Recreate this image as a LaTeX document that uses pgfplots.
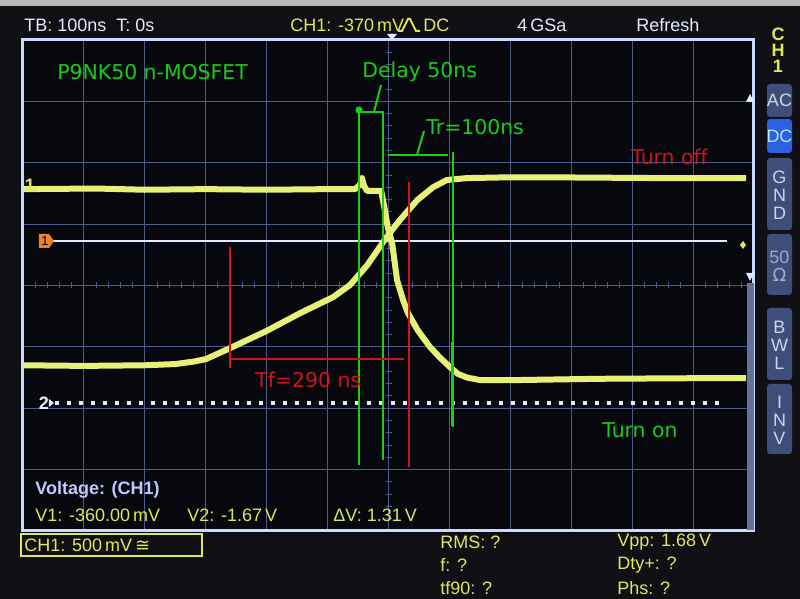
\documentclass[border=0pt]{standalone}
\usepackage{fontspec}
\setmainfont{Liberation Sans}
\newfontfamily\dv{DejaVu Sans}
\usepackage{pgfplots}
\pgfplotsset{compat=1.18}
\definecolor{bg}{RGB}{6,8,14}
\definecolor{outer}{RGB}{16,16,20}
\definecolor{gridc}{RGB}{78,92,140}
\definecolor{framec}{RGB}{205,218,255}
\definecolor{trace}{RGB}{232,240,118}
\definecolor{uiw}{RGB}{228,234,255}
\definecolor{uiy}{RGB}{222,232,92}
\definecolor{ann}{RGB}{25,205,25}
\definecolor{annr}{RGB}{205,20,25}
\definecolor{btn}{RGB}{62,78,122}
\definecolor{btnhi}{RGB}{45,95,225}
\definecolor{btntxt}{RGB}{205,212,232}
\definecolor{trig}{RGB}{240,130,40}
\definecolor{cursor}{RGB}{225,235,255}
\newcommand{\ui}{\fontsize{9}{10}\selectfont}
\newcommand{\an}{\dv\fontsize{10.2}{12}\selectfont}
\begin{document}
\begin{tikzpicture}
\begin{scope}[x=0.5pt,y=-0.5pt,shift={(-11.5pt,265.5pt)}]
  \fill[outer] (0,0) rectangle (800,599);
  \fill[gray!55] (0,0) rectangle (800,6);
  \fill[bg] (22,38) rectangle (756,533);
  \foreach \i in {-30,...,30} { \draw[gridc, line width=0.5pt] ({388.5+\i*12.183},282.5) -- ++(0,6); }
  \foreach \i in {-20,...,20} { \draw[gridc, line width=0.5pt] (385.5,{285.5+\i*12.275}) -- ++(6,0); }
\end{scope}
\begin{axis}[
  at={(0,0)}, anchor=south west,
  scale only axis, width=365.5pt, height=245.5pt,
  xmin=-600, xmax=600, ymin=-4, ymax=4,
  xtick={-500,-400,...,500}, ytick={-3,-2,...,3},
  xticklabels={}, yticklabels={}, major tick length=0pt,
  grid=major, major grid style={gridc, line width=0.5pt},
  axis line style={framec, line width=1.5pt},
]
\addplot[cursor, line width=1.4pt] coordinates {(-556,0.725)(556,0.725)};
\addplot[uiw, line width=2pt, dash pattern=on 2pt off 4pt] coordinates {(-547,-1.914)(549,-1.914)};
% Turn off trace (drain voltage falls)
\addplot[trace, line width=3pt, line join=round] coordinates {
(-600,1.57) (-480,1.58) (-400,1.56) (-300,1.57) (-200,1.56) (-100,1.57) (-55,1.57)
(-47,1.64) (-43.5,1.75) (-40,1.62) (-35,1.54) (-12,1.54) (-6,1.23) (-1,0.94) (6,0.69)
(14,0.09) (24,-0.24) (32,-0.45) (48,-0.73) (68,-1.00) (85,-1.18) (101,-1.33) (114,-1.44)
(129,-1.50) (150,-1.54) (216,-1.54) (347,-1.52) (511,-1.51) (587,-1.51)};
% Turn on trace (rises)
\addplot[trace, line width=3pt, line join=round] coordinates {
(-600,-1.30) (-500,-1.31) (-400,-1.30) (-350,-1.28) (-320,-1.24) (-300,-1.20) (-260,-1.02)
(-200,-0.74) (-145,-0.45) (-91,-0.19) (-63,0.01) (-35,0.33) (-3,0.79) (19,1.07) (47,1.39)
(73,1.60) (96,1.72) (129,1.75) (183,1.76) (300,1.76) (450,1.75) (587,1.75)};
\end{axis}
\begin{scope}[x=0.5pt,y=-0.5pt,shift={(-11.5pt,265.5pt)}]
  % markers
  \node[uiy, font=\ui\bfseries, inner sep=0] at (30,185) {1};
  \fill[uiy] (34,186) -- (38,189) -- (34,192) -- cycle;
  \fill[trig] (39,234) -- (49,234) -- (54,241) -- (49,248) -- (39,248) -- cycle;
  \node[black, font=\fontsize{6.5}{6.5}\selectfont, inner sep=0] at (45,241) {1};
  \node[uiw, font=\ui\bfseries, inner sep=0] at (44,403) {2};
  \fill[uiw] (49,399) -- (54,403) -- (49,407) -- cycle;
  \fill[uiy] (743,241) -- (746,245) -- (743,249) -- (740,245) -- cycle;
  \fill[uiw] (750,94) -- (754,102) -- (746,102) -- cycle;
  \fill[uiw] (746,273) -- (754,273) -- (750,281) -- cycle;
  \fill[btn!80] (747,283) rectangle (754,530);
  \fill[uiw] (387,34) -- (397,34) -- (392,40) -- cycle;
  % green annotations
  \begin{scope}[ann, line width=1pt]
    \fill (359,110) circle (1.8pt);
    \draw (359,110) -- (359,465);
    \draw (359,112) -- (383,112) -- (383,460);
    \draw (374,112) -- (381,85);
    \draw (388,155) -- (448,155);
    \draw (417,155) -- (424,131);
    \draw (453,152) -- (453,427);
    \draw[line width=1.5pt] (452,342) -- (452,426);
  \end{scope}
  \node[ann, font=\an, inner sep=0, anchor=west] at (57,72) {P9NK50 n-MOSFET};
  \node[ann, font=\an, inner sep=0, anchor=west] at (362,72) {Delay 50ns};
  \node[ann, font=\an, inner sep=0, anchor=west] at (426,127) {Tr=100ns};
  \node[ann, font=\an, inner sep=0, anchor=west] at (602,430) {Turn on};
  % red annotations
  \begin{scope}[annr, line width=1pt]
    \draw (230,247) -- (230,368);
    \draw (230,359) -- (404,359);
    \draw (409,182) -- (409,467);
  \end{scope}
  \node[annr, font=\an, inner sep=0, anchor=west] at (255,380) {Tf=290 ns};
  \node[annr, font=\an, inner sep=0, anchor=west] at (631,157) {Turn off};
  % top status line
  \node[uiw, font=\ui, inner sep=0, anchor=west] at (24,25) {TB: 100ns\ \ T: 0s};
  \node[uiy, font=\ui, inner sep=0, anchor=west] at (290,25) {CH1: -370\,mV};
  \draw[uiy, line width=1pt] (398,31) -- (402,31) -- (408,19) -- (410,19) -- (416,31) -- (420,31);
  \node[uiy, font=\ui, inner sep=0, anchor=west] at (423,25) {DC};
  \node[uiw, font=\ui, inner sep=0, anchor=west] at (517,25) {4\,GSa};
  \node[uiw, font=\ui, inner sep=0, anchor=west] at (636,25) {Refresh};
  % side panel
  \node[uiy, font=\ui\bfseries, inner sep=0, align=center] at (778,50) {C\\[-2pt]H\\[-2pt]1};
  \fill[btn, rounded corners=1.5pt] (767,84) rectangle (792,117);
  \fill[btnhi, rounded corners=1.5pt] (767,119) rectangle (792,153);
  \fill[btn, rounded corners=1.5pt] (767,158) rectangle (792,230);
  \fill[btn, rounded corners=1.5pt] (767,234) rectangle (792,295);
  \fill[btn, rounded corners=1.5pt] (767,308) rectangle (792,380);
  \fill[btn, rounded corners=1.5pt] (767,384) rectangle (792,454);
  \node[btntxt, font=\ui, inner sep=0] at (779.5,100) {AC};
  \node[cyan!30, font=\ui, inner sep=0] at (779.5,136) {DC};
  \node[btntxt, font=\ui, inner sep=0, align=center] at (779.5,195) {G\\[-1pt]N\\[-1pt]D};
  \node[btntxt!70!btn, font=\ui, inner sep=0, align=center] at (779.5,266) {50\\[-1pt]{\dv Ω}};
  \node[btntxt, font=\ui, inner sep=0, align=center] at (779.5,345) {B\\[-1pt]W\\[-1pt]L};
  \node[btntxt, font=\ui, inner sep=0, align=center] at (779.5,420) {I\\[-1pt]N\\[-1pt]V};
  % bottom measurement area
  \node[uiw!85!blue, font=\ui\bfseries, inner sep=0, anchor=west] at (35,490) {Voltage: (CH1)};
  \node[uiy, font=\ui, inner sep=0, anchor=west] at (35,515) {V1: -360.00\,mV};
  \node[uiy, font=\ui, inner sep=0, anchor=west] at (187,515) {V2: -1.67\,V};
  \node[uiy, font=\ui, inner sep=0, anchor=west] at (333,515) {ΔV: 1.31\,V};
  \draw[uiy, line width=0.8pt] (21,534) rectangle (202,556);
  \node[uiy, font=\ui, inner sep=0, anchor=west] at (24,545) {CH1: 500\,mV\,{\dv ≅}};
  \node[uiy, font=\ui, inner sep=0, anchor=west] at (440,542) {RMS: ?};
  \node[uiy, font=\ui, inner sep=0, anchor=west] at (440,565) {f: ?};
  \node[uiy, font=\ui, inner sep=0, anchor=west] at (440,588) {tf90: ?};
  \node[uiy, font=\ui, inner sep=0, anchor=west] at (617,542) {Vpp: 1.68\,V};
  \node[uiy, font=\ui, inner sep=0, anchor=west] at (617,565) {Dty+: ?};
  \node[uiy, font=\ui, inner sep=0, anchor=west] at (617,588) {Phs: ?};
\end{scope}
\end{tikzpicture}
\end{document}
